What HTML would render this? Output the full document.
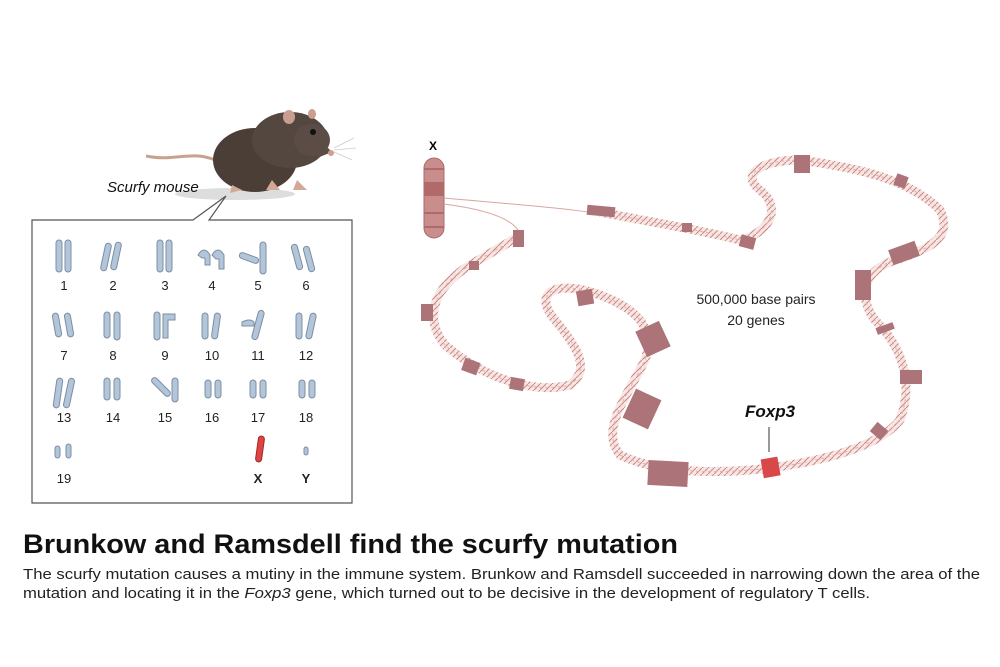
<!DOCTYPE html>
<html><head><meta charset="utf-8"><style>
body{margin:0;width:1000px;height:667px;background:#fff;overflow:hidden;font-family:"Liberation Sans",sans-serif}
</style></head><body>
<svg width="1000" height="667" viewBox="0 0 1000 667" xmlns="http://www.w3.org/2000/svg" style="position:absolute;left:0;top:0">
<defs>
<pattern id="dna" width="6" height="6" patternUnits="userSpaceOnUse"><rect width="6" height="6" fill="#f7e6e4"/><path d="M0 6L6 0" stroke="#c98a86" stroke-width="1"/></pattern>
</defs>
<!-- mouse -->
<ellipse cx="235" cy="194" rx="60" ry="6" fill="#ddd"/>
<path d="M215 160 C190 150 175 162 146 156" stroke="#c8a290" stroke-width="3" fill="none"/>
<ellipse cx="255" cy="160" rx="42" ry="32" fill="#4a3e37"/>
<ellipse cx="290" cy="140" rx="38" ry="28" fill="#544740"/>
<ellipse cx="312" cy="140" rx="18" ry="16" fill="#5b4d45"/>
<path d="M320 140 L332 152 L317 158 Z" fill="#5b4d45"/>
<circle cx="331" cy="153" r="3" fill="#d49c8c"/>
<circle cx="313" cy="132" r="3" fill="#111"/>
<ellipse cx="289" cy="117" rx="6" ry="7" fill="#c99e90"/>
<ellipse cx="312" cy="114" rx="4" ry="5" fill="#c99e90"/>
<path d="M232 185 l10 5 l-12 3 Z M272 180 l8 10 l-14 0Z M297 180 l10 10 l-14 0Z" fill="#d3a996"/>
<g stroke="#ccc" stroke-width="0.8"><path d="M334 148 l20 -10 M334 150 l22 -2 M334 152 l18 8"/></g>
<text x="107" y="192" font-size="15" font-style="italic" fill="#111">Scurfy mouse</text>
<!-- box -->
<path d="M32 220 H193 L226 196 L209 220 H352 V503 H32 Z" fill="#fff" stroke="#555" stroke-width="1.2"/>
<g fill="#b3c5d8" stroke="#7c8ea3" stroke-width="1">
<rect x="56" y="240" width="6" height="32" rx="3"/><rect x="65" y="240" width="6" height="32" rx="3"/>
<rect x="103" y="243" width="6" height="28" rx="3" transform="rotate(12 106 257)"/><rect x="113" y="242" width="6" height="28" rx="3" transform="rotate(12 116 256)"/>
<rect x="157" y="240" width="6" height="32" rx="3"/><rect x="166" y="240" width="6" height="32" rx="3"/>
<path d="M198 255 q6 -10 12 0 v10 h-5 v-7 h-3 z"/><path d="M212 255 q6 -10 12 0 v14 h-5 v-10 h-3 z"/>
<rect x="246" y="248" width="6" height="20" rx="3" transform="rotate(-70 249 258)"/><rect x="260" y="242" width="6" height="32" rx="3"/>
<rect x="294" y="244" width="6" height="26" rx="3" transform="rotate(-15 297 257)"/><rect x="306" y="246" width="6" height="26" rx="3" transform="rotate(-15 309 259)"/>
<rect x="54" y="313" width="6" height="24" rx="3" transform="rotate(-10 57 325)"/><rect x="66" y="313" width="6" height="24" rx="3" transform="rotate(-10 69 325)"/>
<rect x="104" y="312" width="6" height="26" rx="3"/><rect x="114" y="312" width="6" height="28" rx="3"/>
<rect x="154" y="312" width="6" height="28" rx="3"/><path d="M163 314 h12 v6 h-7 v18 h-5 z"/>
<rect x="202" y="313" width="6" height="26" rx="3"/><rect x="213" y="313" width="6" height="26" rx="3" transform="rotate(8 216 326)"/>
<path d="M242 322 q8 -4 12 0 v4 h-12z"/><rect x="255" y="310" width="6" height="30" rx="3" transform="rotate(15 258 325)"/>
<rect x="296" y="313" width="6" height="26" rx="3"/><rect x="308" y="313" width="6" height="26" rx="3" transform="rotate(12 311 326)"/>
<rect x="55" y="378" width="6" height="30" rx="3" transform="rotate(8 58 393)"/><rect x="66" y="378" width="6" height="30" rx="3" transform="rotate(12 69 393)"/>
<rect x="104" y="378" width="6" height="22" rx="3"/><rect x="114" y="378" width="6" height="22" rx="3"/>
<rect x="158" y="375" width="6" height="24" rx="3" transform="rotate(-45 161 387)"/><rect x="172" y="378" width="6" height="24" rx="3"/>
<rect x="205" y="380" width="6" height="18" rx="3"/><rect x="215" y="380" width="6" height="18" rx="3"/>
<rect x="250" y="380" width="6" height="18" rx="3"/><rect x="260" y="380" width="6" height="18" rx="3"/>
<rect x="299" y="380" width="6" height="18" rx="3"/><rect x="309" y="380" width="6" height="18" rx="3"/>
<rect x="55" y="446" width="5" height="12" rx="2.5"/><rect x="66" y="444" width="5" height="14" rx="2.5"/>
<rect x="304" y="447" width="4" height="8" rx="2"/>
</g>
<rect x="257" y="436" width="6" height="26" rx="3" fill="#d44" stroke="#a22" transform="rotate(8 260 449)"/>
<g font-size="13" fill="#222" text-anchor="middle">
<text x="64" y="290">1</text><text x="113" y="290">2</text><text x="165" y="290">3</text><text x="212" y="290">4</text><text x="258" y="290">5</text><text x="306" y="290">6</text>
<text x="64" y="360">7</text><text x="113" y="360">8</text><text x="165" y="360">9</text><text x="212" y="360">10</text><text x="258" y="360">11</text><text x="306" y="360">12</text>
<text x="64" y="422">13</text><text x="113" y="422">14</text><text x="165" y="422">15</text><text x="212" y="422">16</text><text x="258" y="422">17</text><text x="306" y="422">18</text>
<text x="64" y="483">19</text><text x="258" y="483" font-weight="bold">X</text><text x="306" y="483" font-weight="bold">Y</text>
</g>
<!-- X chromosome -->
<text x="433" y="150" font-size="12" font-weight="bold" text-anchor="middle">X</text>
<rect x="424" y="158" width="20" height="80" rx="10" fill="#c98d8d" stroke="#a86a6a"/>
<g fill="#b06a6a"><rect x="424" y="168" width="20" height="2"/><rect x="424" y="182" width="20" height="14"/><rect x="424" y="212" width="20" height="2"/><rect x="424" y="226" width="20" height="2"/></g>
<path d="M444 198 C520 205 600 210 640 222" stroke="#d9a6a2" stroke-width="1" fill="none"/>
<path d="M444 204 C490 210 515 220 520 234" stroke="#d9a6a2" stroke-width="1" fill="none"/>
<!-- DNA -->
<path d="M600 212 C650 222 690 228 740 240 C765 235 785 210 760 190 C740 175 760 160 800 160 C860 168 910 180 940 210 C955 240 925 250 890 262 C860 275 860 300 875 320 C900 345 915 380 900 420 C880 445 830 460 770 468 C720 474 660 474 620 455 C600 430 625 400 645 360 C655 330 640 310 600 295 C560 280 530 290 555 320 C580 350 590 370 570 385 C530 395 480 375 445 345 C425 320 430 290 470 265 C495 250 515 240 520 234"
 stroke="url(#dna)" stroke-width="9" fill="none"/>
<path d="M600 212 C650 222 690 228 740 240 C765 235 785 210 760 190 C740 175 760 160 800 160 C860 168 910 180 940 210 C955 240 925 250 890 262 C860 275 860 300 875 320 C900 345 915 380 900 420 C880 445 830 460 770 468 C720 474 660 474 620 455 C600 430 625 400 645 360 C655 330 640 310 600 295 C560 280 530 290 555 320 C580 350 590 370 570 385 C530 395 480 375 445 345 C425 320 430 290 470 265 C495 250 515 240 520 234"
 stroke="#e6b0aa" stroke-width="1" stroke-dasharray="3 3" fill="none"/>
<g fill="#ac7478">
<rect x="587" y="206" width="28" height="10" transform="rotate(5 601 211)"/>
<rect x="682" y="223" width="10" height="9"/>
<rect x="740" y="236" width="15" height="12" transform="rotate(15 747 242)"/>
<rect x="794" y="155" width="16" height="18"/>
<rect x="895" y="175" width="12" height="12" transform="rotate(20 901 181)"/>
<rect x="890" y="245" width="28" height="16" transform="rotate(-20 904 253)"/>
<rect x="855" y="270" width="16" height="30"/>
<rect x="876" y="325" width="18" height="7" transform="rotate(-20 885 328)"/>
<rect x="900" y="370" width="22" height="14"/>
<rect x="872" y="425" width="14" height="12" transform="rotate(40 879 431)"/>
<rect x="648" y="461" width="40" height="25" transform="rotate(3 668 473)"/>
<rect x="628" y="393" width="28" height="32" transform="rotate(25 642 409)"/>
<rect x="640" y="325" width="26" height="28" transform="rotate(-25 653 339)"/>
<rect x="577" y="290" width="16" height="15" transform="rotate(-10 585 297)"/>
<rect x="510" y="378" width="14" height="12" transform="rotate(10 517 384)"/>
<rect x="463" y="360" width="16" height="13" transform="rotate(20 471 366)"/>
<rect x="421" y="304" width="12" height="17"/>
<rect x="469" y="261" width="10" height="9"/>
<rect x="513" y="230" width="11" height="17"/>
</g>
<rect x="762" y="458" width="17" height="19" fill="#d94848" transform="rotate(-10 770 467)"/>
<line x1="769" y1="427" x2="769" y2="452" stroke="#333" stroke-width="1"/>
<text x="770" y="417" font-size="17" font-weight="bold" font-style="italic" text-anchor="middle" fill="#111">Foxp3</text>
<text x="756" y="304" font-size="14" text-anchor="middle" fill="#222">500,000 base pairs</text>
<text x="756" y="325" font-size="14" text-anchor="middle" fill="#222">20 genes</text>
<!-- caption -->
<text x="23" y="553" font-size="27" font-weight="bold" fill="#111" textLength="655" lengthAdjust="spacingAndGlyphs">Brunkow and Ramsdell find the scurfy mutation</text>
<text x="23" y="579" font-size="14.5" fill="#222" textLength="957" lengthAdjust="spacingAndGlyphs">The scurfy mutation causes a mutiny in the immune system. Brunkow and Ramsdell succeeded in narrowing down the area of the</text>
<text x="23" y="598" font-size="14.5" fill="#222" textLength="847" lengthAdjust="spacingAndGlyphs">mutation and locating it in the <tspan font-style="italic">Foxp3</tspan> gene, which turned out to be decisive in the development of regulatory T cells.</text>
</svg>
</body></html>
